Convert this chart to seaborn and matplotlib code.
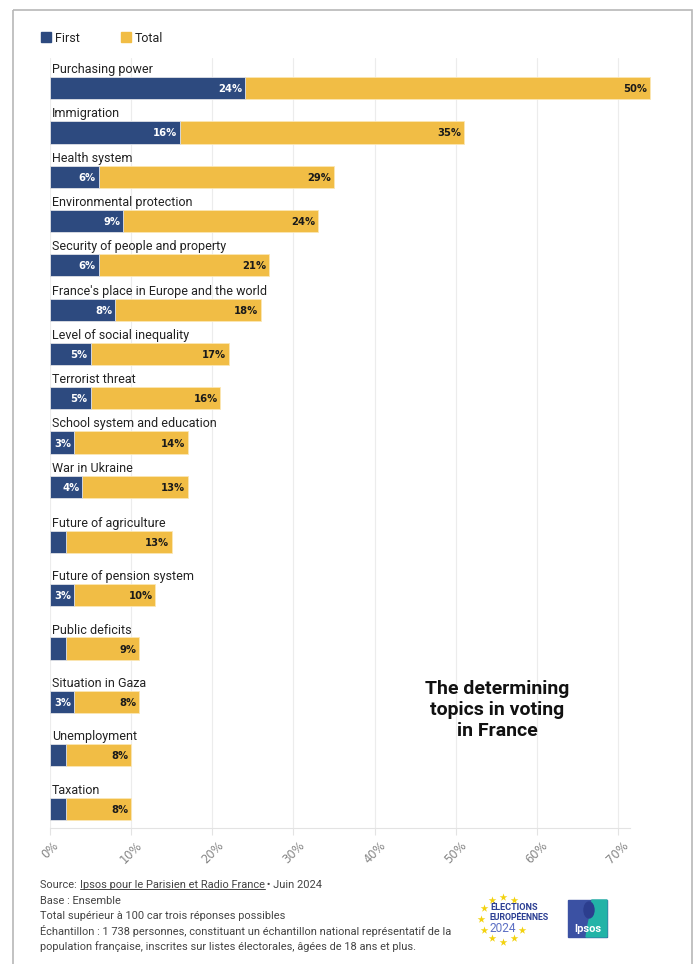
import numpy as np
import pandas as pd
import matplotlib
matplotlib.use("Agg")
import matplotlib.pyplot as plt
import seaborn as sns
from matplotlib.patches import Rectangle, Polygon, Ellipse
from matplotlib.lines import Line2D

# ---- data -------------------------------------------------------------
topics = [
    "Purchasing power",
    "Immigration",
    "Health system",
    "Environmental protection",
    "Security of people and property",
    "France's place in Europe and the world",
    "Level of social inequality",
    "Terrorist threat",
    "School system and education",
    "War in Ukraine",
    "Future of agriculture",
    "Future of pension system",
    "Public deficits",
    "Situation in Gaza",
    "Unemployment",
    "Taxation",
]
first = [24, 16, 6, 9, 6, 8, 5, 5, 3, 4, 2, 3, 2, 3, 2, 2]
total = [50, 35, 29, 24, 21, 18, 17, 16, 14, 13, 13, 10, 9, 8, 8, 8]
x_ticks = [0, 10, 20, 30, 40, 50, 60, 70]
x_tick_labels = [f"{t}%" for t in x_ticks]

footer_lines = [
    "Base : Ensemble",
    "Total supérieur à 100 car trois réponses possibles",
    "Échantillon : 1 738 personnes, constituant un échantillon national représentatif de la",
    "population française, inscrites sur listes électorales, âgées de 18 ans et plus.",
]

# ---- layout -----------------------------------------------------------
# gap between consecutive rows (the lower rows are spaced a little wider)
row_gaps = [1.0] * 9 + [1.24] + [1.205] * 5
row_pos = np.concatenate([[0.0], np.cumsum(row_gaps)])

df = pd.DataFrame({"topic": topics, "first": first, "total": total, "row": row_pos})
df["end"] = df["first"] + df["total"]

BLUE = "#2d4a7f"
YELLOW = "#f1bd45"
TEXT = "#222222"
SANS = ["Roboto", "DejaVu Sans"]

sns.set_theme(style="white")
plt.rcParams["font.family"] = SANS

W, H = 696, 964
fig = plt.figure(figsize=(W / 100, H / 100), dpi=100)
fig.patch.set_facecolor("white")


def fx(x):
    return x / W


def fy(y):
    return 1 - y / H


ax = fig.add_axes([fx(50), fy(828), fx(630) - fx(50), fy(58) - fy(828)])
ax.set_facecolor("none")

# stacked bars: the "Total" segment is drawn after the "First" segment
sns.barplot(data=df, x="end", y="row", orient="y", native_scale=True,
            color=YELLOW, saturation=1, width=0.5, errorbar=None,
            edgecolor="#fbe7b5", linewidth=0.6, ax=ax)
sns.barplot(data=df, x="first", y="row", orient="y", native_scale=True,
            color=BLUE, saturation=1, width=0.5, errorbar=None,
            edgecolor="#dfe3ee", linewidth=0.6, ax=ax)
for p in ax.patches:
    p.set_clip_on(False)

for _, r in df.iterrows():
    ax.annotate(r["topic"], xy=(0, r["row"] - 0.34), xytext=(1.2, 0),
                textcoords="offset points", ha="left", va="baseline",
                fontsize=9.0, color=TEXT)
    if r["first"] >= 3:
        ax.annotate(f"{r['first']}%", xy=(r["first"], r["row"]), xytext=(-2, 0),
                    textcoords="offset points", ha="right", va="center_baseline",
                    fontsize=7.2, fontweight="bold", color="white",
                    family="DejaVu Sans", annotation_clip=False)
    ax.annotate(f"{r['total']}%", xy=(r["end"], r["row"]), xytext=(-2, 0),
                textcoords="offset points", ha="right", va="center_baseline",
                fontsize=7.2, fontweight="bold", color="#1a1a1a",
                family="DejaVu Sans", annotation_clip=False)

ax.set_xlim(0, 71.48)
ax.set_ylim(16.70, -0.68)
ax.set_xticks(x_ticks)
ax.set_xticklabels(x_tick_labels, rotation=45, ha="center", family="DejaVu Sans")
ax.set_yticks([])
ax.set_xlabel("")
ax.set_ylabel("")
ax.tick_params(axis="x", bottom=True, length=5, width=0.8, color="#e3e3e3",
               pad=3, labelsize=8.3, labelcolor="#858585")
ax.grid(axis="x", color="#ececec", linewidth=0.8)
ax.set_axisbelow(True)
for s in ["top", "right", "left"]:
    ax.spines[s].set_visible(False)
ax.spines["bottom"].set_color("#e3e3e3")
ax.spines["bottom"].set_linewidth(0.8)

# legend
handles = [
    Line2D([], [], marker="s", ls="", markersize=7.5, color=BLUE),
    Line2D([], [], marker="s", ls="", markersize=7.5, color=YELLOW),
]
fig.legend(handles, ["First", "Total"], loc="center left",
           bbox_to_anchor=(fx(35), fy(38)), ncol=2, frameon=False,
           handlelength=0.9, handletextpad=0.3, columnspacing=3.2,
           fontsize=9.0, labelcolor=TEXT, borderaxespad=0)

# headline
fig.text(fx(497), fy(710), "The determining\ntopics in voting\nin France",
         ha="center", va="center", fontsize=14, fontweight="bold",
         family=["Roboto", "DejaVu Sans"], color="#111111", linespacing=1.2)

# footer
FOOT = dict(fontsize=7.9, color="#444444")
t1 = fig.text(fx(40), fy(885), "Source: ", va="center", ha="left", **FOOT)
t2 = plt.annotate("Ipsos pour le Parisien et Radio France", xy=(1, 0),
                  xycoords=t1, va="bottom", ha="left", annotation_clip=False, **FOOT)
t3 = plt.annotate(" • Juin 2024", xy=(1, 0), xycoords=t2, va="bottom",
                  ha="left", annotation_clip=False, **FOOT)
for i, line in enumerate(footer_lines):
    fig.text(fx(40), fy(901 + 15.2 * i), line, va="center", ha="left", **FOOT)

# overlay for frame and logos (pixel coordinates)
ov = fig.add_axes([0, 0, 1, 1])
ov.set_xlim(0, W)
ov.set_ylim(H, 0)
ov.axis("off")
ov.add_patch(Rectangle((13, 10), 679, 990, fill=False, edgecolor="#b8b8b8",
                       linewidth=1.2, clip_on=False))

# European elections badge
cx, cy, rad = 503, 919, 22.5
angles = np.deg2rad([60, 90, 120, 150, 180, 210, 240, 270, 300, 330])
ov.scatter(cx + rad * np.cos(angles), cy - rad * np.sin(angles), marker="*",
           s=34, color="#f3d20f", linewidths=0, zorder=3)
ov.text(490, 907.5, "ÉLECTIONS", fontsize=6.6, fontweight="bold",
        color="#2b3e93", va="center", ha="left")
ov.text(490, 917.5, "EUROPÉENNES", fontsize=6.3, fontweight="bold",
        color="#2b3e93", va="center", ha="left")
ov.text(490, 928.5, "2024", fontsize=8.6, color="#5d70c4", va="center", ha="left")

# Ipsos logo
ov.add_patch(Rectangle((568, 900), 39, 37, color="#3b51a3", zorder=2))
ov.add_patch(Polygon([(592, 900), (607, 900), (607, 937), (586, 937),
                      (588, 925), (591, 912)], closed=True, color="#22b3a7", zorder=3))
ov.add_patch(Ellipse((589, 910), 10, 16, color="#2c3e8e", zorder=4))
ov.text(587.5, 928.5, "Ipsos", fontsize=8, fontweight="bold", color="white",
        ha="center", va="center", zorder=5)

# underline for the source link
fig.canvas.draw()
bb = t2.get_window_extent()
yl = bb.y0 + 1.5
fig.add_artist(Line2D([bb.x0 / W, bb.x1 / W], [yl / H, yl / H],
                      transform=fig.transFigure, color="#444444", linewidth=0.7))

fig.savefig("out.png", dpi=100, facecolor="white")
